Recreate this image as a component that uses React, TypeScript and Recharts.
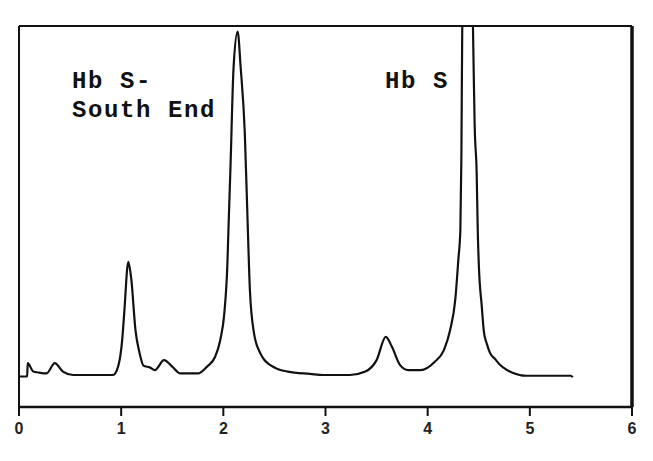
import { LineChart, Line, XAxis, YAxis, ReferenceLine } from "recharts";

// retention time (x) and detector response (y, % of plot height)
const retention = [
  0, 0.08, 0.085, 0.14, 0.2, 0.27, 0.35, 0.43, 0.53, 0.92, 0.97, 1.01, 1.03,
  1.07, 1.1, 1.14, 1.18, 1.22, 1.28, 1.33, 1.42, 1.5, 1.58, 1.75, 1.84, 1.92,
  1.97, 2.01, 2.04, 2.05, 2.07, 2.1, 2.14, 2.17, 2.21, 2.24, 2.26, 2.3, 2.36,
  2.4, 2.46, 2.53, 2.63, 2.85, 2.98, 3.24, 3.39, 3.5, 3.59, 3.65, 3.73, 3.81,
  3.93, 4.07, 4.16, 4.22, 4.27, 4.3, 4.32, 4.33, 4.34, 4.39, 4.44, 4.45, 4.46,
  4.48, 4.49, 4.5, 4.53, 4.55, 4.58, 4.61, 4.66, 4.71, 4.77, 4.83, 4.96, 5.4,
  5.42,
];
const response = [
  8.0, 8.0, 11.5, 9.3, 9.0, 8.8, 11.5, 9.3, 8.4, 8.4, 10.6, 17.6, 24.7, 38.1,
  33.3, 20.2, 14.2, 10.8, 10.4, 9.7, 12.3, 10.6, 8.8, 8.8, 10.6, 13.2, 17.6,
  24.7, 37.8, 46.5, 63, 89, 98.5, 89, 72, 46.5, 30.7, 19.4, 14.2, 12.4, 11.0,
  10.0, 9.3, 8.7, 8.4, 8.4, 9.3, 12.3, 18.4, 15.8, 11.0, 9.7, 9.7, 11.9, 15.0,
  20.2, 28.1, 38.6, 46.5, 65.6, 105, 140, 105, 89, 74, 61, 46.5, 37.8, 26.3,
  19.8, 16.5, 14.2, 12.6, 11.0, 9.8, 9.0, 8.2, 8.2, 7.8,
];
const xTicks = [0, 1, 2, 3, 4, 5, 6];

const data = retention.map((t, i) => ({ t, v: response[i] }));

const labelStyle: React.CSSProperties = {
  position: "absolute",
  fontFamily: "'Liberation Mono', monospace",
  fontWeight: "bold",
  fontSize: 24,
  letterSpacing: 1.6,
  lineHeight: "29px",
  color: "#111",
  whiteSpace: "pre",
};

export default function App() {
  return (
    <div
      style={{
        position: "absolute",
        left: 0,
        top: 0,
        width: 653,
        height: 461,
        background: "#fff",
      }}
    >
      <LineChart
        width={653}
        height={461}
        data={data}
        margin={{ top: 26, right: 21, bottom: 24, left: 19 }}
      >
        <XAxis
          dataKey="t"
          type="number"
          domain={[0, 6]}
          ticks={xTicks}
          height={30}
          axisLine={{ stroke: "#111", strokeWidth: 2.5 }}
          tickLine={{ stroke: "#111", strokeWidth: 2 }}
          tickSize={9}
          tickMargin={7}
          tick={{
            fill: "#222",
            fontSize: 16,
            fontWeight: "bold",
            fontFamily: "'Liberation Sans', Arial, sans-serif",
          }}
        />
        <YAxis hide domain={[0, 100]} allowDataOverflow />
        <ReferenceLine x={0} stroke="#111" strokeWidth={2} />
        <ReferenceLine x={6} stroke="#111" strokeWidth={3.5} />
        <ReferenceLine y={100} stroke="#111" strokeWidth={2} />
        <Line
          type="monotoneX"
          dataKey="v"
          stroke="#111"
          strokeWidth={2.2}
          dot={false}
          isAnimationActive={false}
        />
      </LineChart>
      <div style={{ ...labelStyle, left: 72, top: 67 }}>
        {"Hb S-\nSouth End"}
      </div>
      <div style={{ ...labelStyle, left: 385, top: 67 }}>Hb S</div>
    </div>
  );
}
